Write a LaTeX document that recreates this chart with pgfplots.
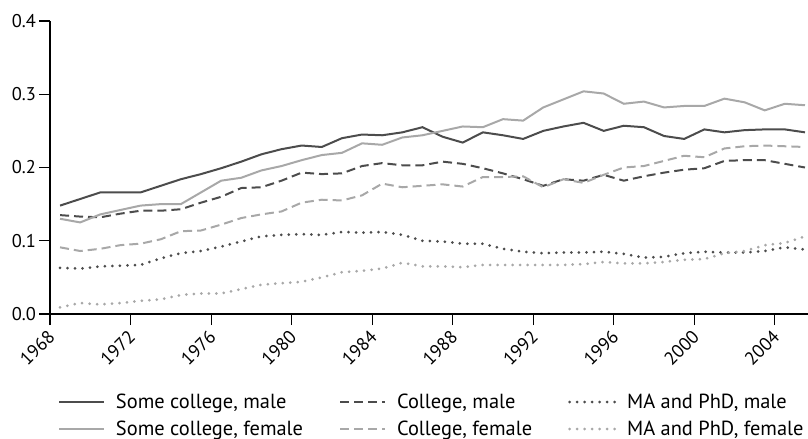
\documentclass[border=0pt]{standalone}
\usepackage{pgfplots}
\usepackage{pgfplotstable}
\pgfplotsset{compat=1.18}
\usepackage{fontspec}
\setmainfont{PT Sans}
\definecolor{dk}{HTML}{4C4C4C}
\definecolor{lt}{HTML}{A8A8A8}
\pgfplotstableread{
x scm scf cm cf mm mf
1968.5 0.148 0.130 0.135 0.091 0.063 0.009
1969.5 0.157 0.125 0.133 0.086 0.062 0.015
1970.5 0.166 0.136 0.132 0.089 0.065 0.013
1971.5 0.166 0.142 0.137 0.094 0.066 0.015
1972.5 0.166 0.148 0.141 0.096 0.067 0.018
1973.5 0.175 0.150 0.141 0.102 0.076 0.020
1974.5 0.184 0.150 0.143 0.113 0.083 0.026
1975.5 0.191 0.166 0.152 0.114 0.086 0.028
1976.5 0.199 0.182 0.160 0.122 0.092 0.028
1977.5 0.208 0.186 0.172 0.131 0.099 0.034
1978.5 0.218 0.196 0.173 0.136 0.106 0.040
1979.5 0.225 0.202 0.182 0.140 0.108 0.042
1980.5 0.230 0.210 0.193 0.152 0.109 0.044
1981.5 0.228 0.217 0.191 0.156 0.108 0.050
1982.5 0.240 0.220 0.192 0.155 0.112 0.057
1983.5 0.245 0.233 0.202 0.162 0.111 0.059
1984.5 0.244 0.231 0.206 0.178 0.112 0.062
1985.5 0.248 0.241 0.203 0.173 0.108 0.070
1986.5 0.255 0.244 0.203 0.175 0.100 0.065
1987.5 0.242 0.250 0.208 0.177 0.099 0.065
1988.5 0.234 0.256 0.205 0.174 0.096 0.064
1989.5 0.248 0.255 0.199 0.187 0.096 0.067
1990.5 0.244 0.266 0.192 0.187 0.089 0.067
1991.5 0.239 0.264 0.184 0.188 0.085 0.067
1992.5 0.250 0.282 0.175 0.173 0.083 0.067
1993.5 0.256 0.293 0.184 0.184 0.084 0.067
1994.5 0.261 0.304 0.182 0.179 0.084 0.068
1995.5 0.250 0.301 0.190 0.190 0.085 0.071
1996.5 0.257 0.287 0.182 0.200 0.082 0.069
1997.5 0.255 0.290 0.188 0.202 0.077 0.069
1998.5 0.243 0.282 0.193 0.209 0.078 0.071
1999.5 0.239 0.284 0.197 0.216 0.083 0.074
2000.5 0.252 0.284 0.199 0.214 0.085 0.075
2001.5 0.248 0.294 0.209 0.226 0.084 0.083
2002.5 0.251 0.289 0.210 0.229 0.084 0.086
2003.5 0.252 0.278 0.210 0.230 0.086 0.094
2004.5 0.252 0.287 0.205 0.229 0.091 0.097
2005.5 0.248 0.285 0.200 0.228 0.088 0.106
}\datatable
\begin{document}
\begin{tikzpicture}
\begin{axis}[
  name=ax,
  scale only axis,
  width=758bp, height=293bp,
  xmin=1968, xmax=2005.65,
  ymin=0, ymax=0.4,
  axis x line*=bottom, axis y line*=left,
  axis line style={-, line width=1.1bp, black},
  tick style={line width=1.1bp, black},
  tick align=outside,
  major tick length=11bp,
  xtick={1968,1972,1976,1980,1984,1988,1992,1996,2000,2004},
  xticklabels={1968,1972,1976,1980,1984,1988,1992,1996,2000,2004},
  ytick={0,0.1,0.2,0.3,0.4},
  yticklabels={0.0,0.1,0.2,0.3,0.4},
  ticklabel style={font=\fontsize{18.5}{18.5}\selectfont, text=black},
  xticklabel style={yshift=-7bp, xshift=3bp, rotate=45, anchor=east, inner sep=2bp},
  yticklabel style={inner sep=3bp},
  legend columns=3,
  legend cell align=left,
  legend style={draw=none, fill=none, inner sep=0pt, outer sep=0pt,
    font=\fontsize{20.5}{20.5}\selectfont,
    at={([xshift=8bp,yshift=-78bp]axis description cs:0,0)}, anchor=north west,
    row sep=7bp,
    /tikz/every even column/.append style={column sep=34bp},
    /tikz/every odd column/.append style={column sep=9bp}},
  legend image code/.code={\draw[#1] (0bp,0bp) -- (45bp,0bp);},
]
\addplot[dk, line width=2bp] table[x=x,y=scm]{\datatable};
\addlegendentry{Some college, male}
\addplot[dk, line width=2bp, dash pattern=on 9bp off 5bp] table[x=x,y=cm]{\datatable};
\addlegendentry{College, male}
\addplot[dk, line width=3bp, line cap=round, dash pattern=on 0bp off 7.5bp] table[x=x,y=mm]{\datatable};
\addlegendentry{MA and PhD, male}
\addplot[lt, line width=2bp] table[x=x,y=scf]{\datatable};
\addlegendentry{Some college, female}
\addplot[lt, line width=2bp, dash pattern=on 9bp off 5bp] table[x=x,y=cf]{\datatable};
\addlegendentry{College, female}
\addplot[lt, line width=3bp, line cap=round, dash pattern=on 0bp off 7.5bp] table[x=x,y=mf]{\datatable};
\addlegendentry{MA and PhD, female}
\end{axis}
\pgfresetboundingbox
\path ([xshift=-50bp,yshift=-125bp]ax.south west) rectangle ([yshift=21bp]ax.north east);
\end{tikzpicture}
\end{document}
